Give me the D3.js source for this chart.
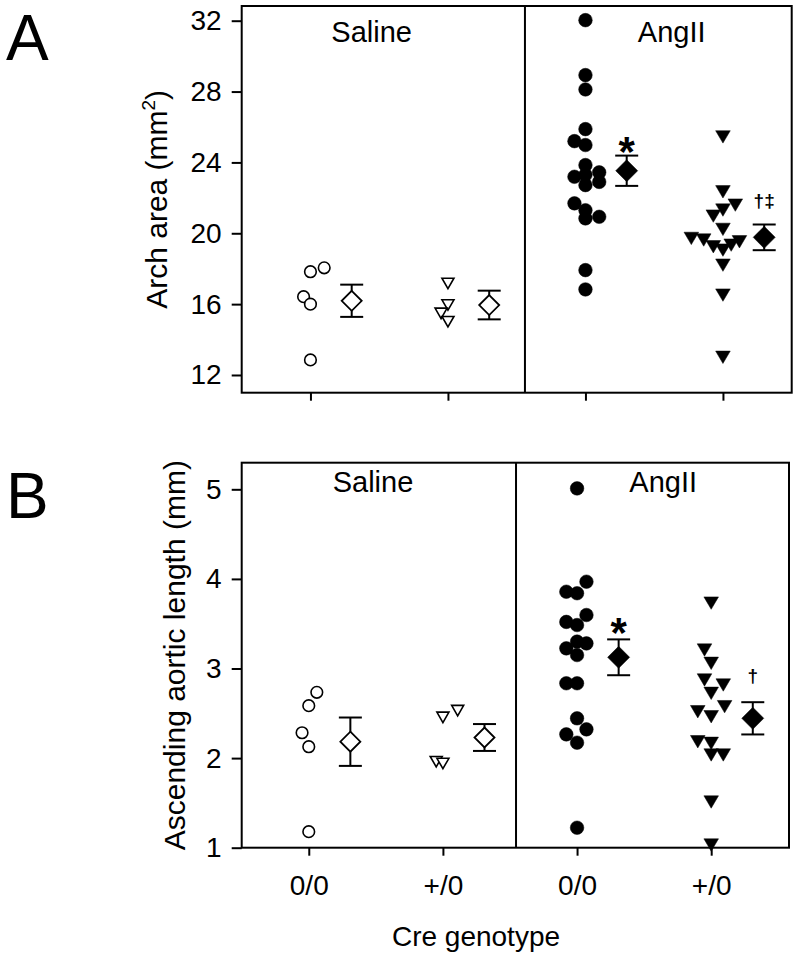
<!DOCTYPE html>
<html><head><meta charset="utf-8">
<script src="https://cdn.jsdelivr.net/npm/d3@7"></script>
<style>
body{margin:0;background:#fff}
svg{display:block}
text{font-family:"Liberation Sans",Arial,Helvetica,sans-serif;fill:#000}
</style>
</head><body>
<svg id="chart" width="800" height="957"></svg>
<script>
// ---------- DATA ----------
const genotypes = ["0/0", "+/0", "0/0", "+/0"];
const treatments = ["Saline", "AngII"];

// Panel A: Arch area (mm2)
const archSaline00 = [18.05, 17.83, 16.42, 16.0, 12.85];
const archSaline00Jitter = [0.1, 0, -0.05, 0, 0];
const archSalineP0 = [17.17, 15.95, 15.48, 15.01];
const archSalineP0Jitter = [0, 0, -0.05, 0];
const archAng00 = [32.03, 28.93, 28.12, 25.88, 25.2, 24.98, 23.85, 23.44, 23.3, 23.19, 22.9, 22.72, 21.69, 21.3, 20.93, 20.84, 17.92, 16.83];
const archAng00Jitter = [0, 0, 0, 0, -0.08, 0, 0, 0.1, 0, -0.08, 0.1, 0, -0.08, 0, 0.1, 0, 0, 0];
const archAngP0 = [25.44, 22.34, 21.59, 21.31, 20.97, 20.22, 19.71, 19.62, 19.24, 19.05, 19.33, 19.52, 18.2, 16.51, 13.0];
const archAngP0Jitter = [0, 0, 0.09, 0, -0.07, 0, -0.23, -0.14, -0.07, 0, 0.06, 0.12, 0, 0, 0];
const archMeans = [16.19, 15.95, 23.53, 19.77];
const archSEM = [0.91, 0.81, 0.855, 0.725];
const archMarks = ["", "", "*", "\u2020\u2021"];
const archTicks = [12, 16, 20, 24, 28, 32];

// Panel B: Ascending aortic length (mm)
const lenSaline00 = [2.734, 2.585, 2.283, 2.127, 1.179];
const lenSaline00Jitter = [0.06, 0, -0.05, 0, 0];
const lenSalineP0 = [2.53, 2.455, 1.96, 1.94];
const lenSalineP0Jitter = [0.11, 0, -0.05, 0];
const lenAng00 = [5.01, 3.969, 3.857, 3.84, 3.597, 3.52, 3.485, 3.28, 3.30, 3.225, 3.15, 2.835, 2.835, 2.444, 2.321, 2.265, 2.172, 1.223];
const lenAng00Jitter = [0, 0.07, -0.08, 0, 0.07, -0.08, 0, 0.07, 0, -0.08, 0, -0.08, 0, 0, 0.07, -0.08, 0, 0];
const lenAngP0 = [3.73, 3.206, 3.058, 2.872, 2.816, 2.723, 2.574, 2.518, 2.462, 2.183, 2.165, 2.035, 2.035, 1.51, 1.03];
const lenAngP0Jitter = [0, -0.05, 0, -0.05, 0.09, 0, 0.1, -0.1, 0, -0.1, 0, 0, 0.09, 0, 0];
const lenMeans = [2.183, 2.23, 3.125, 2.444];
const lenSEM = [0.27, 0.15, 0.2, 0.18];
const lenMarks = ["", "", "*", "\u2020"];
const lenTicks = [1, 2, 3, 4, 5];

// ---------- DRAWING ----------
const FONT = '"Liberation Sans",Arial,Helvetica,sans-serif';
const svg = d3.select("#chart");

function drawPanel(cfg) {
  const g = svg.append("g").attr("transform", `translate(${cfg.left},${cfg.top})`);
  const x = d3.scaleLinear().domain(cfg.xDomain).range([0, cfg.width]);
  const y = d3.scaleLinear().domain(cfg.yDomain).range([cfg.height, 0]);
  const catPos = genotypes.map((d, i) => i + 0.5);

  // y axis
  const yg = g.append("g")
    .call(d3.axisLeft(y).tickValues(cfg.ticks).tickSize(10).tickPadding(10).tickFormat(d3.format("d")))
    .attr("font-family", FONT).attr("font-size", 28);
  yg.select(".domain").remove();
  yg.selectAll(".tick line").attr("stroke", "#000").attr("stroke-width", 2);
  yg.selectAll(".tick text").attr("fill", "#000");

  // x axis
  const xg = g.append("g").attr("transform", `translate(0,${cfg.height})`)
    .call(d3.axisBottom(x).tickValues(catPos).tickSize(8).tickPadding(19)
      .tickFormat((d, i) => cfg.showXLabels ? genotypes[i] : ""))
    .attr("font-family", FONT).attr("font-size", 28);
  xg.select(".domain").remove();
  xg.selectAll(".tick line").attr("stroke", "#000").attr("stroke-width", 2);
  xg.selectAll(".tick text").attr("fill", "#000");

  // frame + divider
  g.append("rect").attr("width", cfg.width).attr("height", cfg.height)
    .attr("fill", "none").attr("stroke", "#000").attr("stroke-width", 2);
  g.append("line").attr("x1", x(cfg.divider)).attr("x2", x(cfg.divider))
    .attr("y1", 0).attr("y2", cfg.height).attr("stroke", "#000").attr("stroke-width", 2);

  // treatment labels
  treatments.forEach((t, i) => {
    g.append("text").attr("x", x(cfg.titleX[i])).attr("y", cfg.titleY)
      .attr("text-anchor", "middle").attr("font-size", 29).text(t);
  });

  // groups
  cfg.groups.forEach((grp, gi) => {
    const filled = gi >= 2;
    const isTri = gi % 2 === 1;
    const c = catPos[gi];
    grp.values.forEach((v, k) => {
      const px = x(c + grp.jitter[k]), py = y(v);
      if (isTri) {
        const w = filled ? 7.3 : 6, h = filled ? 6.2 : 5.2;
        g.append("path").attr("d", `M${-w},${-h}L${w},${-h}L0,${h}Z`)
          .attr("transform", `translate(${px},${py})`)
          .attr("fill", filled ? "#000" : "#fff").attr("stroke", "#000")
          .attr("stroke-width", filled ? 0.5 : 1.6).attr("stroke-linejoin", "miter");
      } else {
        g.append("circle").attr("cx", px).attr("cy", py).attr("r", filled ? 6.8 : 5.8)
          .attr("fill", filled ? "#000" : "#fff").attr("stroke", "#000")
          .attr("stroke-width", filled ? 0.5 : 1.6);
      }
    });
    // mean +/- SEM
    const mx = x(c + cfg.meanOffset);
    const m = cfg.means[gi], s = cfg.sem[gi];
    const yTop = y(m + s), yBot = y(m - s);
    g.append("line").attr("x1", mx).attr("x2", mx).attr("y1", yTop).attr("y2", yBot)
      .attr("stroke", "#000").attr("stroke-width", 2);
    [yTop, yBot].forEach(yy => g.append("line").attr("x1", mx - 11.5).attr("x2", mx + 11.5)
      .attr("y1", yy).attr("y2", yy).attr("stroke", "#000").attr("stroke-width", 2));
    const r = filled ? 11 : 10;
    g.append("path").attr("d", `M0,${-r}L${r},0L0,${r}L${-r},0Z`)
      .attr("transform", `translate(${mx},${y(m)})`)
      .attr("fill", filled ? "#000" : "#fff").attr("stroke", "#000").attr("stroke-width", filled ? 0.5 : 1.8);
    // significance marks
    const mark = cfg.marks[gi];
    if (mark === "*") {
      g.append("text").attr("x", mx).attr("y", yTop + cfg.starDy)
        .attr("text-anchor", "middle").attr("font-size", 42).attr("font-weight", "bold")
        .attr("fill", "#000").text(mark);
    } else if (mark) {
      g.append("text").attr("x", mx).attr("y", yTop + cfg.daggerDy)
        .attr("text-anchor", "middle").attr("font-size", 19).attr("font-weight", "bold")
        .attr("fill", "#000").text(mark);
    }
  });

  // y-axis title
  const tt = g.append("text")
    .attr("transform", `translate(${cfg.yTitleX - cfg.left},${cfg.height / 2}) rotate(-90)`)
    .attr("text-anchor", "middle").attr("font-size", 30);
  cfg.yTitle.forEach(part => {
    const ts = tt.append("tspan").text(part.t);
    if (part.sup) ts.attr("font-size", 19).attr("dy", -12);
    if (part.after) ts.attr("dy", 12);
  });
}

drawPanel({
  left: 241.7, top: 6, width: 550, height: 386.7,
  xDomain: [0, 4], yDomain: [11, 32.83], divider: 2.06,
  ticks: archTicks, showXLabels: false,
  titleX: [0.945, 3.127], titleY: 36,
  meanOffset: 0.3, means: archMeans, sem: archSEM, marks: archMarks,
  starDy: 10, daggerDy: -18,
  yTitleX: 167,
  yTitle: [{t: "Arch area (mm"}, {t: "2", sup: true}, {t: ")", after: true}],
  groups: [
    {values: archSaline00, jitter: archSaline00Jitter},
    {values: archSalineP0, jitter: archSalineP0Jitter},
    {values: archAng00, jitter: archAng00Jitter},
    {values: archAngP0, jitter: archAngP0Jitter}
  ]
});

drawPanel({
  left: 241.7, top: 462.7, width: 547.3, height: 385,
  xDomain: [0, 4.08], yDomain: [1, 5.297], divider: 2.045,
  ticks: lenTicks, showXLabels: true,
  titleX: [0.979, 3.142], titleY: 29,
  meanOffset: 0.31, means: lenMeans, sem: lenSEM, marks: lenMarks,
  starDy: 8, daggerDy: -20,
  yTitleX: 185,
  yTitle: [{t: "Ascending aortic length (mm)"}],
  groups: [
    {values: lenSaline00, jitter: lenSaline00Jitter},
    {values: lenSalineP0, jitter: lenSalineP0Jitter},
    {values: lenAng00, jitter: lenAng00Jitter},
    {values: lenAngP0, jitter: lenAngP0Jitter}
  ]
});

// panel letters and x-axis title
svg.append("text").attr("x", 6).attr("y", 60).attr("font-size", 64).text("A");
svg.append("text").attr("x", 6).attr("y", 518).attr("font-size", 64).text("B");
svg.append("text").attr("x", 476).attr("y", 946).attr("text-anchor", "middle").attr("font-size", 28).text("Cre genotype");
</script>
</body></html>
